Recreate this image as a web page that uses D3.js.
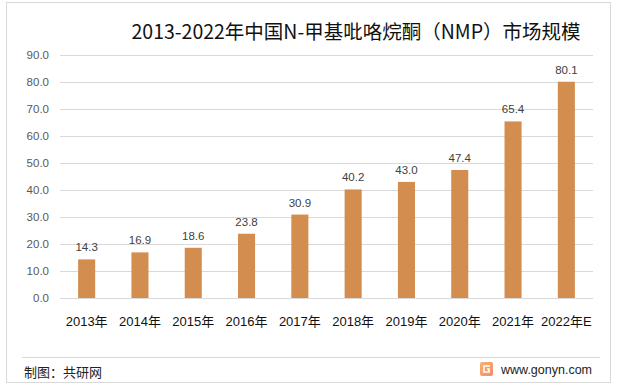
<!DOCTYPE html>
<html>
<head>
<meta charset="utf-8">
<script src="https://cdn.jsdelivr.net/npm/d3@7"></script>
<style>
  body { margin: 0; background: #fff; }
  svg { display: block; font-family: "Liberation Sans", "Noto Sans CJK SC", sans-serif; }
</style>
</head>
<body>
<div id="container"></div>
<script>
/* DATA */
const years = ["2013年", "2014年", "2015年", "2016年", "2017年", "2018年", "2019年", "2020年", "2021年", "2022年E"];
const values = [14.3, 16.9, 18.6, 23.8, 30.9, 40.2, 43.0, 47.4, 65.4, 80.1];
const yTicks = [0, 10, 20, 30, 40, 50, 60, 70, 80, 90];

const width = 618, height = 387;
const margin = { top: 55, bottom: 89, left: 60, right: 25 };

const svg = d3.select("#container")
  .append("svg")
  .attr("width", width)
  .attr("height", height);

// outer frame
svg.append("rect")
  .attr("x", 6.5).attr("y", 2.5)
  .attr("width", 604).attr("height", 380)
  .attr("fill", "#fff")
  .attr("stroke", "#d9d9d9");

/* SCALES */
const xScale = d3.scaleBand()
  .domain(years)
  .range([margin.left, 593])
  .paddingInner(0.68)
  .paddingOuter(0.34);

const yScale = d3.scaleLinear()
  .domain([0, 90])
  .range([298, margin.top]);

// title
svg.append("text")
  .attr("x", 356).attr("y", 39)
  .attr("text-anchor", "middle")
  .attr("font-family", "'Noto Sans CJK SC', sans-serif")
  .attr("font-size", 19.5)
  .attr("fill", "#111")
  .text("2013-2022年中国N-甲基吡咯烷酮（NMP）市场规模");

// y axis with gridlines
const yAxis = svg.append("g")
  .attr("transform", `translate(${margin.left},0)`)
  .call(d3.axisLeft(yScale)
    .tickValues(yTicks)
    .tickSize(-(593 - margin.left))
    .tickPadding(11)
    .tickFormat(d3.format(".1f")));
yAxis.select(".domain").remove();
yAxis.selectAll(".tick line").attr("stroke", "#d9d9d9");
yAxis.selectAll(".tick text")
  .attr("fill", "#595959")
  .attr("font-size", 11.5);

// bars
svg.selectAll(".bar")
  .data(values)
  .join("rect")
  .attr("class", "bar")
  .attr("x", (d, i) => xScale(years[i]))
  .attr("y", d => yScale(d))
  .attr("width", xScale.bandwidth())
  .attr("height", d => yScale(0) - yScale(d))
  .attr("fill", "#d38d4f");

// value labels
svg.selectAll(".val")
  .data(values)
  .join("text")
  .attr("class", "val")
  .attr("x", (d, i) => xScale(years[i]) + xScale.bandwidth() / 2)
  .attr("y", d => yScale(d) - 8)
  .attr("text-anchor", "middle")
  .attr("fill", "#404040")
  .attr("font-size", 11.5)
  .text(d => d.toFixed(1));

// x labels
svg.selectAll(".xl")
  .data(years)
  .join("text")
  .attr("class", "xl")
  .attr("x", d => xScale(d) + xScale.bandwidth() / 2)
  .attr("y", 326)
  .attr("text-anchor", "middle")
  .attr("fill", "#111")
  .attr("font-size", 13)
  .text(d => d);

// footer
svg.append("line")
  .attr("x1", 22).attr("x2", 600)
  .attr("y1", 357.5).attr("y2", 357.5)
  .attr("stroke", "#d9d9d9");

svg.append("text")
  .attr("x", 24).attr("y", 377)
  .attr("font-family", "'Noto Sans CJK SC', sans-serif")
  .attr("font-size", 13)
  .attr("fill", "#222")
  .text("制图：共研网");

const grad = svg.append("defs").append("linearGradient")
  .attr("id", "logo").attr("x1", 0).attr("y1", 0).attr("x2", 1).attr("y2", 1);
grad.append("stop").attr("offset", 0).attr("stop-color", "#f7b36a");
grad.append("stop").attr("offset", 1).attr("stop-color", "#f28c6e");
svg.append("rect")
  .attr("x", 480).attr("y", 362)
  .attr("width", 13).attr("height", 14)
  .attr("rx", 2)
  .attr("fill", "url(#logo)");
svg.append("path")
  .attr("d", "M490 366 H484 V372 H489 V369 H487")
  .attr("fill", "none")
  .attr("stroke", "#fff")
  .attr("stroke-width", 1.5);

svg.append("text")
  .attr("x", 501).attr("y", 374)
  .attr("font-size", 12.5)
  .attr("fill", "#222")
  .text("www.gonyn.com");
</script>
</body>
</html>
